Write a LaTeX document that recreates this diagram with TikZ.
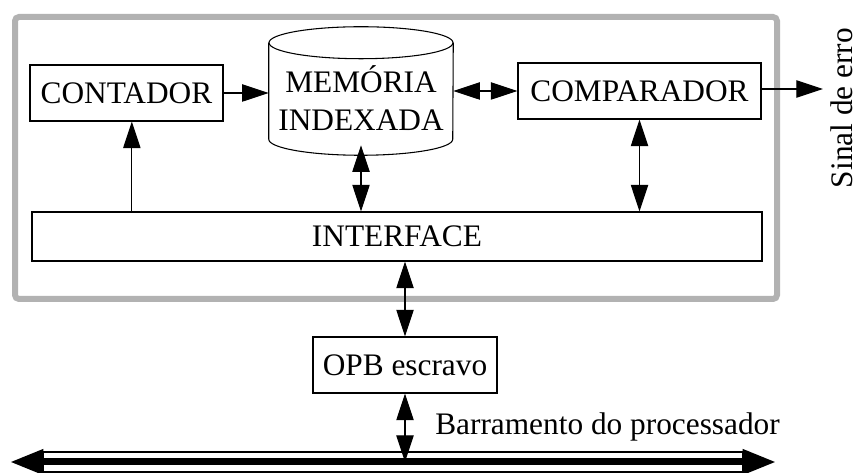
\documentclass[tikz,border=0pt]{standalone}
\usepackage{fontspec}
\setmainfont{Liberation Serif}
\usetikzlibrary{arrows.meta}

\begin{document}
\begin{tikzpicture}[x=0.75pt, y=-0.75pt,
		every node/.style={font=\fontsize{23.5pt}{28.5pt}\selectfont},
		bloco/.style={draw, line width=0.8pt, inner sep=0pt},
		seta/.style={line width=0.8pt, -{Triangle[length=20pt,width=13pt]}},
		setadupla/.style={line width=0.8pt, {Triangle[length=20pt,width=13pt]}-{Triangle[length=20pt,width=13pt]}}]
		% Area of the picture
		\useasboundingbox (0,0) rectangle (857,473);

		% Gray frame round the core
		\draw[line width=4.5pt, gray!60, rounded corners=3pt] (15,17) rectangle (777,299);

		% Blocks
		\node[bloco, minimum width=144.75pt, minimum height=42pt] (cont) at (126.5,93) {CONTADOR};
		\node[bloco, minimum width=182.25pt, minimum height=42pt] (comp) at (639.5,91) {COMPARADOR};
		\node[bloco, minimum width=547.5pt, minimum height=36.75pt] (intf) at (397,236.5) {INTERFACE};
		\node[bloco, minimum width=138pt, minimum height=42pt] (opb) at (405,365) {OPB escravo};

		% Memory as a cylinder
		\node[minimum width=138pt, minimum height=96pt, inner sep=0pt] (mem) at (361,91) {};
		\node[align=center, inner sep=0pt] (memtxt) at (361,98) {MEMÓRIA\\INDEXADA};
		\draw[line width=0.8pt] ([yshift=-12pt]mem.north) ellipse [x radius=69pt, y radius=12pt];
		\draw[line width=0.8pt] ([yshift=-12pt]mem.north west) -- ([yshift=12pt]mem.south west)
			arc [start angle=180, end angle=360, x radius=69pt, y radius=12pt] -- ([yshift=-12pt]mem.north east);

		% Connections inside the core
		\draw[seta] (cont) -- (cont -| mem.west);
		\draw[setadupla] (mem.east |- comp) -- (comp);
		\draw[seta] ([xshift=4pt]cont.south |- intf.north) -- ([xshift=4pt]cont.south);
		\draw[setadupla] ([yshift=7.5pt]mem.south) -- (mem.south |- intf.north);
		\draw[setadupla] (comp) -- (comp |- intf.north);

		% Error output
		\coordinate (erro) at (823,89);
		\draw[seta] (comp.east |- erro) -- (erro);
		\node[rotate=90, anchor=base, inner sep=0pt] (sinal) at (852,108) {Sinal de erro};

		% Processor bus
		\coordinate (busL) at (10,462);
		\coordinate (busR) at (776,462);
		\draw[setadupla] (intf.south -| opb) -- (opb);
		\draw[setadupla] (opb) -- (opb |- busL);
		\draw[line width=0.8pt] ([shift={(33,-10)}]busL) rectangle ([shift={(-33,10)}]busR);
		\draw[line width=5.25pt, {Triangle[length=25pt,width=18pt]}-{Triangle[length=25pt,width=18pt]}] (busL) -- (busR);
		\node[anchor=west, inner sep=0pt] (barr) at (435,427) {Barramento do processador};
	\end{tikzpicture}
\end{document}
